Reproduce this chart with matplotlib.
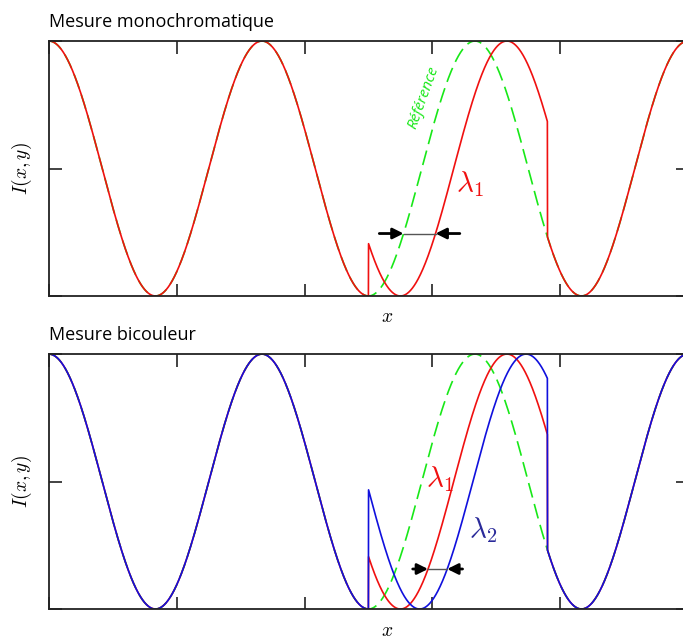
import numpy as np
import matplotlib.pyplot as plt

plt.rcParams['mathtext.fontset'] = 'cm'

# Fringe period and the window where the object shifts the fringes
period = 5 / 3
x_limits = [0, 5]
obj_start, obj_end = 2.5, 3.9
# Phase shift (in x units) for each wavelength
shift_red = 0.25
shift_blue = 0.40
# Height of the shift arrows in each panel
arrow_top = 0.245
arrow_bot = 0.157
xticks = [0, 1, 2, 3, 4, 5]
yticks = [0, 0.5, 1]

titles = ['Mesure monochromatique', 'Mesure bicouleur']

green = '#18e818'
red = '#f01010'
blue = '#1010dd'


def fringes(x, shift=0.0):
    return (1 + np.cos(2 * np.pi * (x - shift) / period)) / 2


x = np.linspace(x_limits[0], x_limits[1], 4000)
inside = (x >= obj_start) & (x <= obj_end)
ref = fringes(x)
red_y = np.where(inside, fringes(x, shift_red), ref)
blue_y = np.where(inside, fringes(x, shift_blue), ref)


def rising_cross(level, shift):
    # x where the shifted fringe crosses `level` just after obj_start
    xs = np.linspace(obj_start - 0.2, obj_start + 0.8, 2000)
    ys = fringes(xs, shift)
    trough = xs[np.argmin(ys)]
    m = xs >= trough
    return np.interp(level, ys[m], xs[m])


def shift_arrows(ax, level, x_left, x_right, tail=0.19):
    ax.plot([x_left, x_right], [level, level], color='#555555', lw=1.0, zorder=5)
    ax.annotate('', xy=(x_left, level), xytext=(x_left - tail, level),
                arrowprops=dict(arrowstyle='-|>', color='black', lw=2,
                                mutation_scale=16, shrinkA=0, shrinkB=0), zorder=6)
    ax.annotate('', xy=(x_right, level), xytext=(x_right + tail, level),
                arrowprops=dict(arrowstyle='-|>', color='black', lw=2,
                                mutation_scale=16, shrinkA=0, shrinkB=0), zorder=6)


fig = plt.figure(figsize=(6.83, 6.39), dpi=100)
ax1 = fig.add_axes([0.0717, 0.5368, 0.9356, 0.399])
ax2 = fig.add_axes([0.0717, 0.0469, 0.9356, 0.399])

for ax, title in zip([ax1, ax2], titles):
    ax.set_xlim(x_limits)
    ax.set_ylim(0, 1)
    ax.set_xticks(xticks)
    ax.set_yticks(yticks)
    ax.tick_params(direction='in', length=9, width=1.2, top=True, right=True,
                   labelbottom=False, labelleft=False, color='#222222')
    for s in ax.spines.values():
        s.set_linewidth(1.3)
        s.set_color('#222222')
    ax.set_title(title, loc='left', fontfamily='Open Sans', fontsize=13, pad=10)
    ax.set_xlabel('$x$', fontsize=14)
    ax.xaxis.set_label_coords(0.529, -0.045)
    ax.set_ylabel('$I(x,y)$', fontsize=14)
    ax.yaxis.set_label_coords(-0.024, 0.5)
    ax.plot(x, ref, color=green, lw=1.2, linestyle=(0, (9, 4)))
    ax.plot(x, red_y, color=red, lw=1.2)

ax2.plot(x, blue_y, color=blue, lw=1.2)

# top panel annotations
ax1.text(2.93, 0.78, 'Référence', color=green, rotation=70, fontsize=11,
         fontfamily='Open Sans', style='italic', ha='center', va='center')
ax1.text(3.29, 0.44, r'$\lambda_1$', color=red, fontsize=21, ha='center', va='center')
shift_arrows(ax1, arrow_top, rising_cross(arrow_top, 0.0), rising_cross(arrow_top, shift_red))

# bottom panel annotations
ax2.text(3.06, 0.51, r'$\lambda_1$', color=red, fontsize=21, ha='center', va='center')
ax2.text(3.40, 0.31, r'$\lambda_2$', color='#2a2a9a', fontsize=21, ha='center', va='center')
shift_arrows(ax2, arrow_bot, rising_cross(arrow_bot, shift_red), rising_cross(arrow_bot, shift_blue),
             tail=0.12)

fig.savefig('out.png', dpi=100)
